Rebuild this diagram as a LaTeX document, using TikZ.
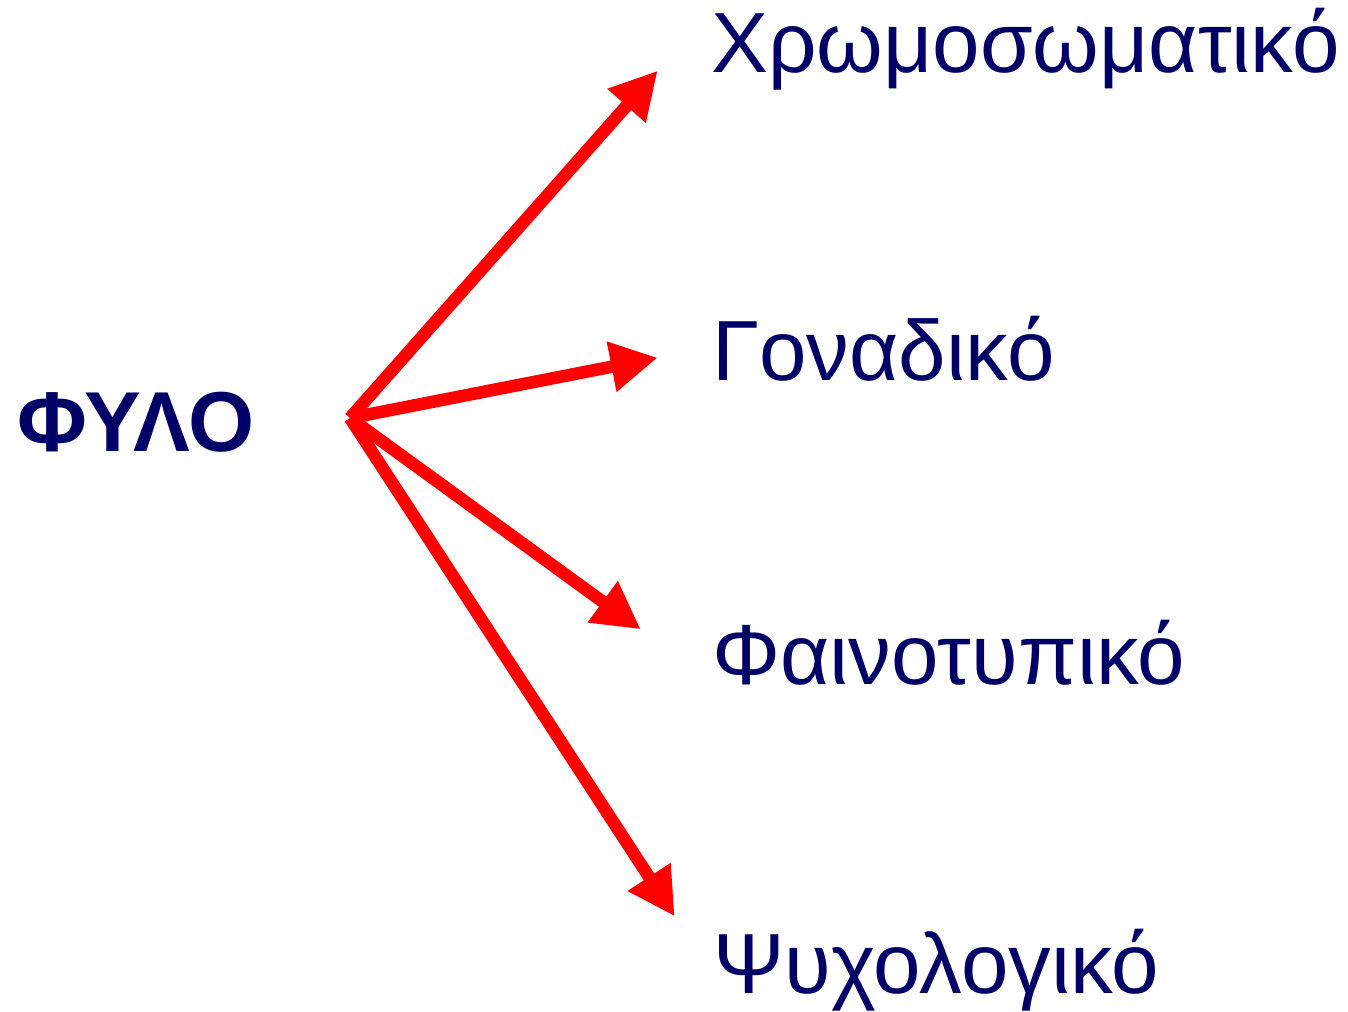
\documentclass[tikz,border=0pt]{standalone}
\usepackage{fontspec}
\setmainfont{Liberation Sans}
\usetikzlibrary{arrows.meta}
\definecolor{navytxt}{RGB}{0,0,102}
\definecolor{arrred}{RGB}{255,0,0}
\begin{document}
\begin{tikzpicture}[x=0.02cm,y=-0.02cm,
  lbl/.style={anchor=base west,inner sep=0pt,text=navytxt,font=\fontsize{48.6}{56}\selectfont},
  arr/.style={draw=arrred,line width=0.25cm,-{Triangle[length=9.4mm,width=9.6mm]}}]
\useasboundingbox (0,0) rectangle (1348,1011);
\node[lbl,font=\fontsize{48.4}{56}\selectfont\bfseries] (fylo) at (17,451) {ΦΥΛΟ};
\node[lbl] (chrom) at (711,72) {Χρωμοσωματικό};
\node[lbl] (gon) at (712,380) {Γοναδικό};
\node[lbl] (fain) at (712,684) {Φαινοτυπικό};
\node[lbl] (psy) at (713,993) {Ψυχολογικό};
\coordinate (o) at (350,418);
\coordinate (t1) at (657.7,70.7);
\coordinate (t2) at (657.7,357.7);
\coordinate (t3) at (640.7,629.3);
\coordinate (t4) at (674.7,916.3);
\draw[arr] (o) -- (t1);
\draw[arr] (o) -- (t2);
\draw[arr] (o) -- (t3);
\draw[arr] (o) -- (t4);
\end{tikzpicture}
\end{document}
